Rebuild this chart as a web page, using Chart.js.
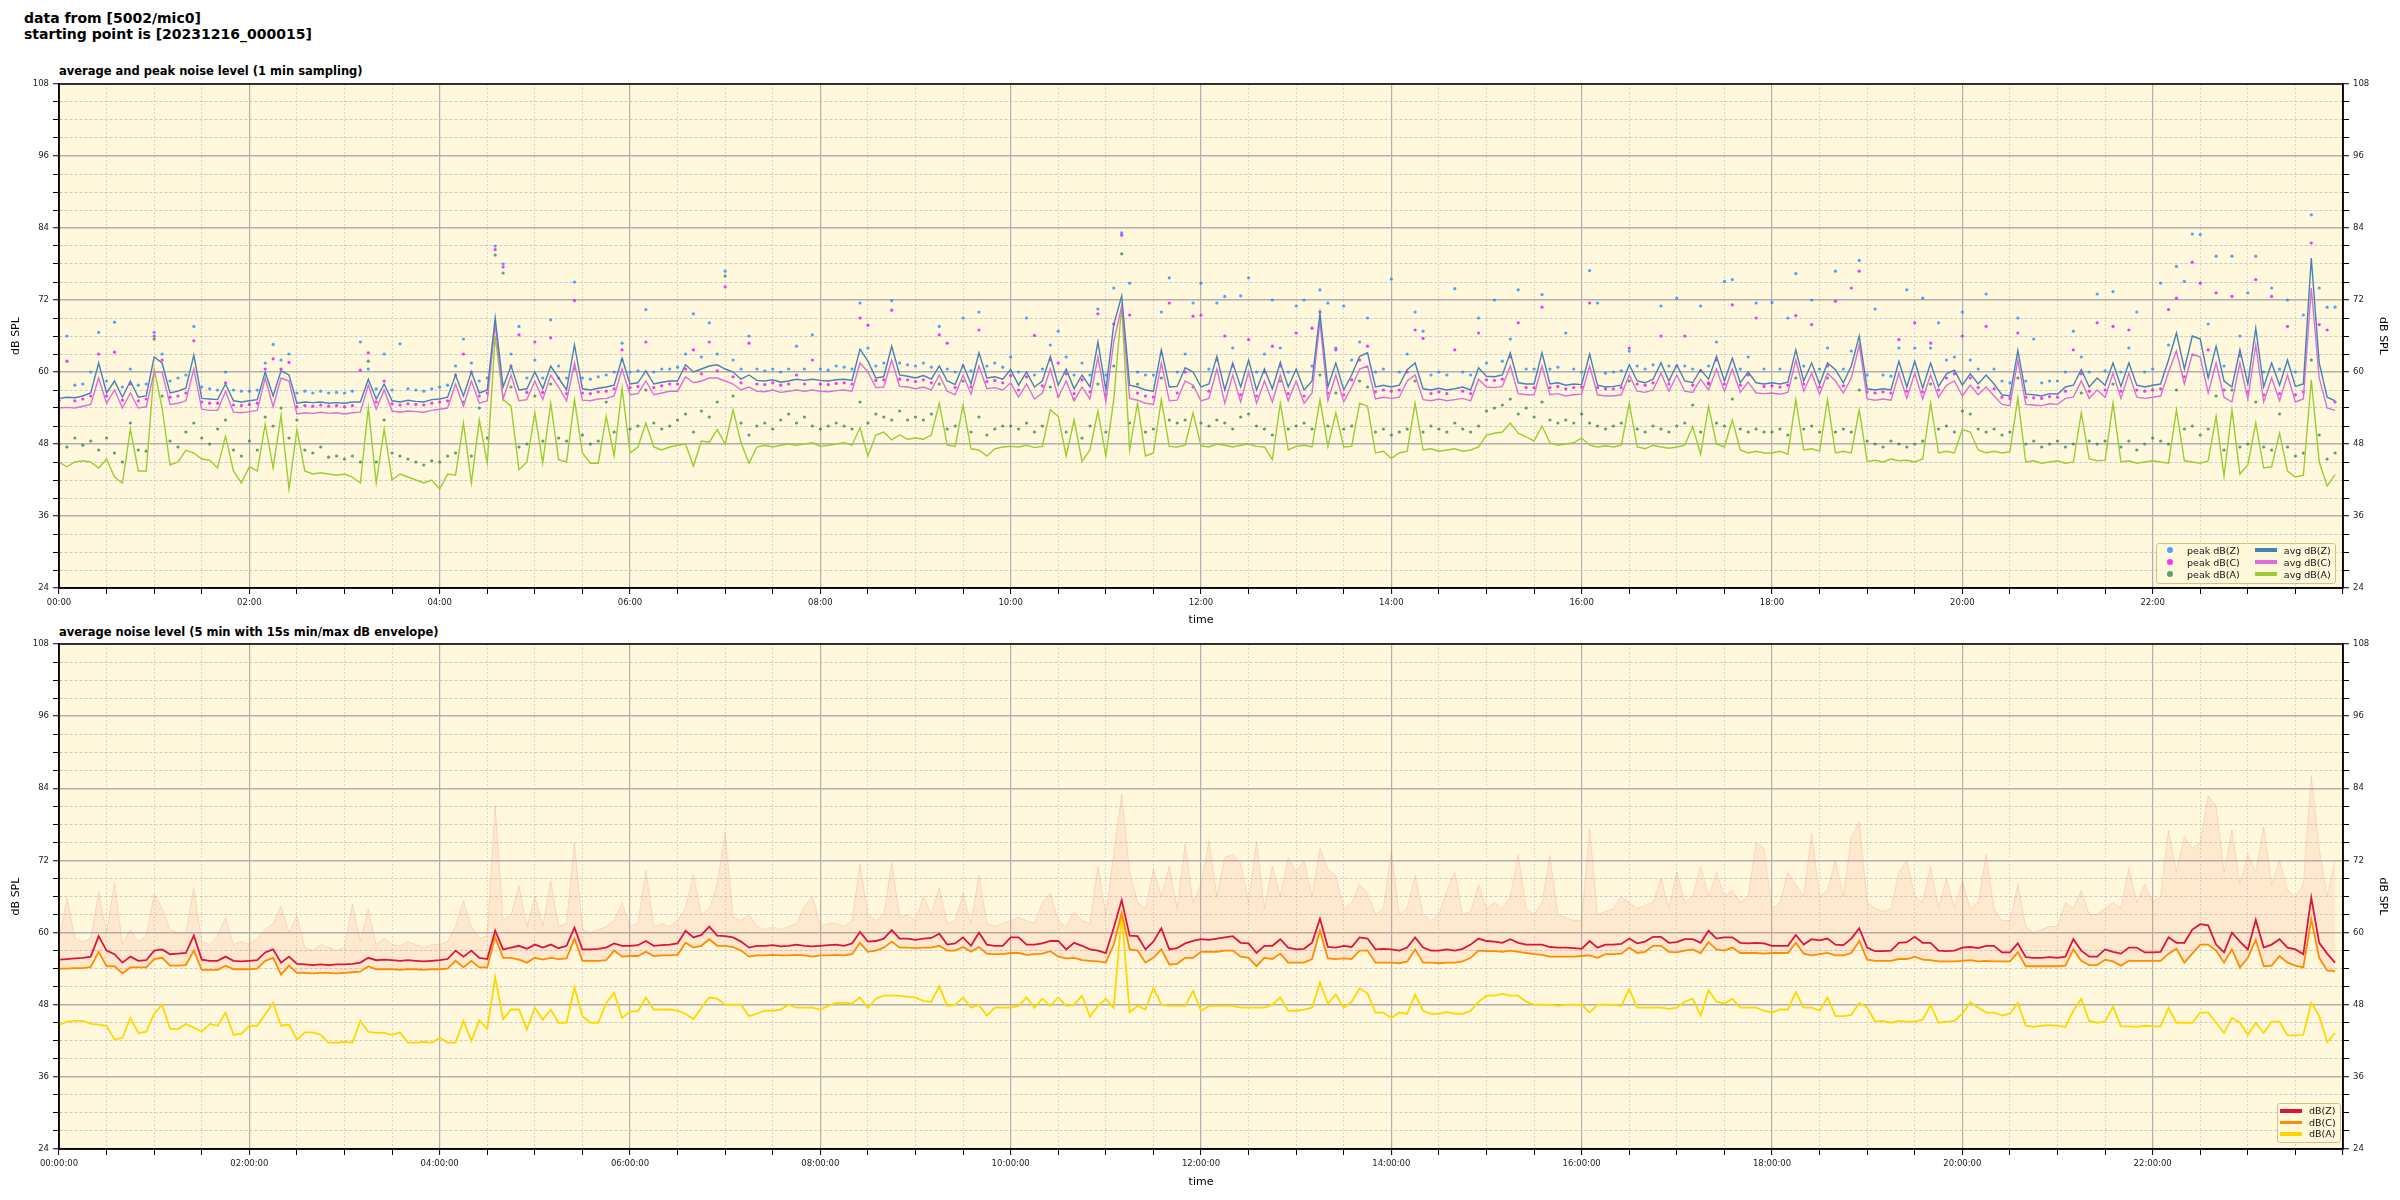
<!DOCTYPE html>
<html>
<head>
<meta charset="utf-8">
<title>noise level 5002/mic0</title>
<script src="https://cdn.jsdelivr.net/npm/chart.js@4.4.1/dist/chart.umd.min.js"></script>
<style>
  body { margin: 0; width: 2400px; height: 1200px; background: #fff; position: relative; overflow: hidden;
         font-family: "DejaVu Sans", sans-serif; }
  .title { position: absolute; left: 24px; top: 10px; font-size: 14px; font-weight: bold; line-height: 16px; color: #000; }
  .sub { position: absolute; left: 59px; font-size: 11.5px; font-weight: bold; line-height: 14px; color: #000; }
  canvas { position: absolute; left: 0; }
  .legend { position: absolute; display: grid; grid-auto-flow: column; font-size: 9.5px; color: #111;
            border: 1px solid #d9bd8c; border-radius: 3px; background: rgba(255, 247, 218, 0.92); }
  .item { display: flex; align-items: center; white-space: nowrap; }
  .dot { width: 6px; height: 6px; border-radius: 50%; margin: 0 14px 0 4px; }
  .bar { width: 22px; height: 3.5px; margin-right: 7px; }
</style>
</head>
<body>
<div class="title">data from [5002/mic0]<br>starting point is [20231216_000015]</div>
<div class="sub" style="top:64px">average and peak noise level (1 min sampling)</div>
<div class="sub" style="top:625px">average noise level (5 min with 15s min/max dB envelope)</div>
<canvas id="top" width="2400" height="570" style="top:60px"></canvas>
<canvas id="bottom" width="2400" height="580" style="top:620px"></canvas>
<div id="legTop" class="legend" style="left:2156px; top:543px; padding:0 4px 3px 6px; column-gap:15px; grid-template-rows:repeat(3, 12px)"></div>
<div id="legBottom" class="legend" style="left:2277px; top:1103px; padding:1px 4px 2px 2px; grid-template-rows:repeat(3, 11.5px)"></div>
<script>
// one sample every 5 minutes, 288 per day
const STEP = 5;
const topTimeLabels = ['00:00', '02:00', '04:00', '06:00', '08:00', '10:00', '12:00', '14:00', '16:00', '18:00', '20:00', '22:00'];
const botTimeLabels = ['00:00:00', '02:00:00', '04:00:00', '06:00:00', '08:00:00', '10:00:00', '12:00:00', '14:00:00', '16:00:00', '18:00:00', '20:00:00', '22:00:00'];
const majorDb = [24, 36, 48, 60, 72, 84, 96, 108];

// top panel: averages
const avgZ = [
  55.6,55.8,55.7,56.0,56.5,61.5,56.5,58.5,55.8,58.5,55.8,56.0,
  62.5,61.5,56.5,56.8,57.3,62.8,55.6,55.5,55.4,58.0,55.2,55.0,
  55.2,55.4,60.0,56.0,60.2,59.5,54.8,55.0,54.9,55.0,54.8,54.9,
  54.8,55.0,55.0,58.8,55.5,58.0,55.2,55.0,55.3,55.1,55.0,55.4,
  55.5,55.8,59.5,56.0,60.0,56.5,57.0,69.0,57.5,61.0,57.0,57.2,
  60.0,57.2,61.0,59.0,57.0,64.5,57.2,57.0,57.3,57.5,57.8,62.3,
  58.0,58.2,60.2,58.0,58.3,58.5,58.5,61.2,60.0,60.5,61.0,61.2,
  60.5,60.0,58.8,59.5,58.6,58.5,58.7,58.3,58.5,58.8,58.6,58.8,
  58.6,58.5,58.7,58.8,58.6,63.8,61.8,59.0,59.2,64.3,59.5,59.3,
  59.0,59.4,58.8,61.0,58.5,57.9,61.2,58.0,63.2,59.0,59.2,58.8,
  60.4,57.8,60.0,57.5,58.5,62.6,57.8,60.5,57.2,59.5,57.5,65.0,
  57.0,67.9,72.7,57.8,57.5,57.0,56.8,63.7,57.5,57.6,60.7,60.0,
  57.5,58.0,62.6,57.0,61.5,57.5,62.0,57.0,60.5,57.2,61.6,57.5,
  60.5,57.0,58.5,69.8,57.5,61.5,57.0,59.5,62.6,63.2,57.5,57.8,
  57.5,57.8,60.4,61.5,57.2,57.0,57.3,57.0,57.2,57.5,57.0,60.7,
  59.3,59.2,59.5,63.2,58.2,58.0,58.0,63.2,58.0,58.2,57.8,58.0,
  57.9,63.0,57.8,57.5,57.6,57.8,61.2,58.5,58.2,58.8,61.5,58.5,
  61.2,58.5,58.2,60.4,58.8,62.6,58.5,62.3,58.2,60.0,58.2,58.0,
  58.2,58.0,58.3,63.7,58.5,61.5,58.0,61.5,60.4,58.2,61.0,66.0,
  57.2,57.0,57.2,57.0,61.8,57.5,61.8,57.3,61.5,57.6,59.7,60.3,
  57.8,59.7,58.0,59.5,58.0,56.2,56.0,63.6,56.3,56.2,56.0,56.4,
  56.3,57.5,57.8,60.4,57.5,59.0,57.8,61.5,57.6,61.5,57.8,57.5,
  57.8,58.0,62.0,66.5,60.5,66.0,65.5,59.0,64.3,58.5,57.5,63.7,
  58.0,67.3,57.5,61.5,57.8,62.0,57.6,58.0,79.0,61.5,55.8,55.2
];
const avgC = [
  54.0,54.1,54.0,54.3,54.6,59.0,54.8,57.0,54.0,56.5,54.0,54.2,
  60.0,60.0,54.6,54.8,55.2,60.5,53.8,53.6,53.6,56.8,53.3,53.2,
  53.4,53.6,59.0,54.2,59.0,58.5,53.0,53.2,53.1,53.3,53.1,53.2,
  53.0,53.2,53.3,57.8,53.8,57.0,53.5,53.3,53.5,53.4,53.3,53.6,
  53.8,54.0,58.0,54.3,58.5,54.8,55.2,68.0,55.5,59.5,55.2,55.4,
  58.5,55.4,59.5,57.5,55.2,61.5,55.3,55.2,55.5,55.6,56.0,60.5,
  56.2,56.4,58.5,56.2,56.5,56.8,56.8,59.2,58.2,58.5,59.0,59.0,
  58.5,58.0,57.0,57.5,56.8,56.7,57.0,56.6,56.8,57.0,56.8,57.0,
  56.8,56.7,56.9,57.0,56.8,61.5,60.0,57.4,57.5,62.0,57.6,57.5,
  57.2,57.5,57.0,59.5,56.8,56.2,59.5,56.3,61.0,57.2,57.4,57.0,
  58.2,55.8,58.0,55.5,56.5,60.5,55.8,58.5,55.2,57.5,55.5,62.5,
  55.0,65.0,71.0,55.6,55.3,54.8,54.6,61.5,55.2,55.3,58.5,57.8,
  55.2,55.6,60.5,54.8,59.5,55.0,60.0,54.8,58.5,55.0,59.5,55.2,
  58.5,54.8,56.5,68.5,55.3,59.5,55.0,57.5,60.5,61.0,55.5,55.8,
  55.6,55.8,58.5,59.5,55.4,55.2,55.5,55.2,55.4,55.6,55.2,58.8,
  57.5,57.4,57.6,61.0,56.4,56.2,56.2,61.0,56.2,56.4,56.0,56.2,
  56.3,61.0,56.2,56.0,56.0,56.2,59.5,56.8,56.6,57.0,59.8,56.8,
  59.5,56.8,56.6,58.8,57.0,60.5,56.8,60.5,56.6,58.3,56.5,56.4,
  56.5,56.3,56.6,62.0,56.8,59.8,56.3,59.8,58.5,56.5,59.0,64.5,
  55.5,55.3,55.5,55.3,59.8,55.6,59.8,55.5,59.5,55.8,57.8,58.5,
  56.0,57.8,56.2,57.5,56.0,54.6,54.4,62.0,54.6,54.5,54.4,54.7,
  54.6,55.6,55.8,58.5,55.6,57.0,55.8,59.8,55.6,59.8,55.8,55.6,
  55.8,56.0,60.0,63.5,58.0,63.0,62.5,56.5,61.5,55.8,55.0,61.5,
  55.5,64.5,55.0,59.0,55.2,59.5,55.0,55.5,74.0,59.0,54.0,53.6
];
const avgA = [
  45.0,44.2,45.0,45.2,45.0,44.0,45.5,42.5,41.5,50.5,43.5,43.5,
  60.5,54.0,44.5,45.0,47.0,46.5,45.5,45.3,44.0,49.3,43.5,41.5,
  44.2,43.5,51.3,44.0,52.8,40.5,50.4,43.5,43.0,43.2,43.0,42.8,
  43.0,42.5,41.5,54.0,41.5,50.5,42.0,43.0,42.5,42.0,41.5,42.0,
  40.5,43.0,42.8,51.5,41.5,52.0,44.8,66.0,55.4,54.3,43.7,45.0,
  53.2,44.8,54.8,45.4,45.0,55.4,46.5,44.8,44.8,52.6,46.0,57.3,
  46.5,47.5,51.5,47.5,47.0,47.5,47.8,48.0,44.3,48.5,48.3,50.4,
  48.0,53.7,48.2,44.8,47.5,47.8,47.5,47.8,48.0,47.8,48.0,48.2,
  47.6,47.8,48.0,48.2,47.8,50.7,46.0,49.5,50.0,48.7,49.5,48.8,
  49.0,48.8,49.5,54.8,47.8,47.6,54.5,47.2,47.0,46.0,47.2,47.5,
  47.6,47.5,47.8,47.4,47.6,53.7,52.6,46.0,52.0,45.1,47.0,53.5,
  46.0,55.4,71.0,47.0,54.8,46.0,46.5,55.4,47.6,47.5,47.8,53.2,
  47.7,47.5,48.0,47.8,47.5,47.8,48.0,47.6,47.5,45.4,54.8,47.0,
  47.6,47.8,47.5,55.4,47.6,53.2,47.5,47.6,54.8,54.3,46.5,46.8,
  45.6,46.5,46.8,54.8,47.0,47.2,46.8,47.0,47.2,46.8,47.0,47.5,
  49.5,49.8,50.0,51.5,49.8,49.2,48.5,51.0,48.2,47.8,48.0,48.2,
  49.0,47.8,47.5,47.7,47.5,47.8,54.8,47.5,47.2,47.8,47.5,47.3,
  47.5,47.8,50.9,46.3,54.3,48.0,47.5,52.0,47.0,46.5,46.8,46.5,
  46.5,46.8,46.3,55.4,47.0,47.2,46.8,55.4,46.5,46.8,46.5,53.7,
  45.1,45.3,45.0,45.5,45.2,45.3,45.0,45.5,54.8,46.5,46.8,46.5,
  50.4,50.0,47.0,46.5,46.8,46.5,46.7,55.7,45.0,45.2,44.8,45.0,
  45.2,44.8,45.0,53.2,45.5,45.2,45.3,54.8,45.0,45.2,44.8,45.0,
  45.2,45.0,44.8,53.7,45.2,45.0,44.8,45.2,52.6,42.6,53.7,43.0,
  44.5,51.5,44.0,44.2,49.8,43.5,42.5,42.8,58.7,45.0,41.0,42.9
];

// top panel: peaks
const peakZ = [
  57.5,66.0,57.8,58.0,60.0,66.6,58.5,68.3,57.5,60.5,57.8,58.0,
  66.6,63.0,58.5,59.0,59.5,67.6,57.5,57.2,57.0,60.0,57.0,56.8,
  56.8,57.0,61.5,64.6,62.0,63.0,56.5,56.8,56.5,56.8,56.5,56.6,
  56.5,56.8,65.0,60.5,57.2,63.0,57.0,64.7,57.2,57.0,56.8,57.2,
  57.5,57.8,61.0,65.5,61.5,58.5,59.0,81.0,78.0,63.0,67.6,59.0,
  62.0,59.0,68.7,61.0,59.0,75.0,59.0,58.8,59.2,59.5,60.0,64.8,
  60.0,60.2,70.4,60.0,60.5,60.5,60.8,63.0,69.7,62.5,68.2,63.0,
  76.8,62.0,60.5,66.0,60.5,60.2,60.5,60.0,60.5,64.3,60.5,66.2,
  60.5,60.3,61.0,60.8,60.5,71.5,64.0,61.0,61.5,71.9,61.5,61.2,
  61.0,61.5,60.8,67.6,60.5,60.0,69.0,60.2,70.0,61.0,61.5,60.8,
  62.5,60.0,69.0,59.5,60.5,64.5,66.8,62.5,59.5,61.5,59.5,70.5,
  59.5,74.0,83.2,74.8,60.0,59.5,59.5,70.0,75.7,60.0,63.0,71.5,
  74.8,60.5,71.5,72.6,64.0,72.7,75.7,60.0,63.0,72.0,64.0,60.0,
  71.0,72.0,61.0,73.7,71.5,64.0,71.0,62.0,65.0,69.0,60.0,60.5,
  75.5,60.0,63.0,70.0,66.8,59.5,60.0,59.5,73.9,60.0,59.5,69.0,
  61.5,72.0,61.8,65.5,73.7,60.5,60.5,72.9,60.5,60.8,66.5,60.5,
  60.0,76.9,71.5,59.8,60.0,60.2,63.5,61.0,60.5,61.2,71.0,61.0,
  72.3,61.0,60.5,71.0,61.0,65.0,75.1,75.4,60.5,62.5,71.5,60.5,
  71.6,60.5,69.0,76.4,61.0,72.0,60.5,64.0,76.8,60.5,63.5,78.6,
  59.5,70.5,59.5,59.3,64.0,73.7,64.0,72.3,64.0,68.2,62.0,62.5,
  70.0,62.0,60.5,73.0,60.5,58.5,58.2,69.0,58.5,65.5,58.2,58.5,
  58.5,60.0,66.8,62.5,60.0,73.0,60.2,73.4,60.0,64.0,70.0,60.0,
  60.5,74.8,64.5,77.6,75.1,83.0,82.9,68.0,79.3,61.0,79.3,66.0,
  73.2,79.3,60.0,74.0,60.5,72.0,60.0,69.5,86.2,74.0,70.8,70.8
];
const peakC = [
  55.3,61.8,55.2,55.5,56.0,63.0,56.0,63.3,55.3,58.0,55.2,55.5,
  66.0,62.0,55.8,56.0,56.5,65.2,55.0,54.8,54.8,58.2,54.5,54.4,
  54.6,54.8,60.5,62.2,60.5,61.6,54.2,54.4,54.3,54.5,54.3,54.4,
  54.2,54.4,60.3,63.2,55.0,58.5,54.7,54.5,54.7,54.6,54.5,54.8,
  55.0,55.2,59.5,63.0,60.0,56.0,56.5,80.4,77.5,61.0,66.2,56.6,
  65.0,56.6,65.7,59.0,56.4,71.9,56.5,56.4,56.7,56.8,57.2,63.7,
  57.4,57.6,65.0,57.4,57.7,58.0,58.0,60.5,63.7,59.7,65.0,60.2,
  74.2,59.2,58.2,64.8,58.0,57.9,58.2,57.8,58.0,59.5,58.0,62.0,
  58.0,57.9,58.1,58.2,58.0,69.0,67.8,58.6,58.7,70.3,58.8,58.7,
  58.4,58.7,58.2,66.2,64.8,57.4,61.0,57.5,67.0,58.4,58.6,58.2,
  59.4,57.0,59.2,66.1,57.7,62.0,61.5,59.7,56.4,58.7,56.7,69.7,
  56.2,68.0,82.8,69.5,56.5,56.0,55.8,63.0,71.5,56.5,60.0,69.3,
  69.5,56.8,62.0,66.0,61.0,56.2,65.4,56.0,60.0,64.3,61.0,56.4,
  66.5,56.0,67.3,70.0,56.5,63.7,56.2,58.7,62.0,64.3,56.7,57.0,
  56.8,57.0,60.0,67.0,65.6,56.4,56.7,56.4,63.7,56.8,56.4,66.5,
  58.7,58.6,58.8,62.5,68.2,57.4,57.4,70.8,57.4,57.6,57.2,57.4,
  57.5,71.5,57.4,57.2,57.2,57.4,64.0,58.0,57.8,58.2,66.0,58.0,
  61.0,66.0,57.8,60.2,58.2,62.0,58.0,71.2,57.8,59.5,69.0,57.6,
  57.7,57.5,57.8,69.4,58.0,67.9,57.5,61.0,71.8,57.7,74.0,76.8,
  56.7,56.5,56.7,56.5,65.4,56.8,68.2,56.7,64.8,57.0,59.0,59.7,
  66.0,59.0,57.4,67.6,57.2,55.8,55.6,66.5,55.8,55.7,55.6,55.9,
  55.8,56.8,63.7,59.7,56.8,68.2,57.0,67.6,56.8,67.0,57.0,56.8,
  57.0,57.2,70.4,72.3,59.2,78.3,74.8,63.7,73.2,57.0,72.6,62.7,
  56.7,75.4,56.2,72.6,56.4,67.6,56.2,56.7,81.5,67.9,67.0,55.0
];
const peakA = [
  48.0,47.5,49.0,47.8,48.5,47.0,49.0,46.5,45.0,51.5,47.0,46.8,
  65.5,56.0,48.5,47.5,50.0,51.5,49.0,48.0,50.5,52.0,47.0,46.0,
  48.5,47.0,52.5,51.0,54.0,49.0,52.0,47.0,46.5,47.5,45.8,46.0,
  45.5,46.0,45.0,61.8,45.0,52.0,46.5,46.0,45.5,45.0,44.5,45.2,
  45.0,46.0,46.5,55.0,46.0,54.0,49.0,79.5,76.5,57.5,47.5,48.0,
  56.0,48.5,58.0,49.0,48.5,60.5,49.5,48.0,48.5,55.0,50.0,62.0,
  50.5,51.0,57.0,51.5,50.5,51.0,52.0,53.0,50.0,53.5,52.5,55.0,
  76.0,56.0,51.5,49.5,51.0,51.5,50.5,52.0,53.0,51.5,52.5,51.0,
  50.5,51.0,51.5,51.0,50.5,55.0,51.5,53.0,52.5,52.0,53.5,52.0,
  52.5,52.0,53.0,58.0,50.5,51.0,58.5,50.0,52.5,49.5,50.5,51.0,
  51.0,50.5,51.5,50.0,51.0,57.5,56.0,50.0,55.5,49.0,51.0,58.0,
  50.0,61.0,79.7,51.5,58.0,50.0,50.5,59.0,52.0,51.5,52.0,57.5,
  51.5,51.0,52.0,51.5,50.5,52.5,53.0,51.0,50.5,49.5,58.5,50.5,
  51.0,51.5,50.5,59.5,51.0,56.5,50.5,51.0,58.5,57.5,50.0,50.5,
  49.5,50.0,50.5,58.5,50.0,51.0,50.5,50.0,51.5,50.5,50.0,51.0,
  53.5,54.0,54.5,55.5,53.0,54.0,52.5,55.0,52.0,51.5,52.0,51.5,
  53.0,51.5,51.0,50.5,51.0,51.5,58.5,50.5,50.0,51.0,50.5,50.0,
  51.0,51.5,54.5,50.0,58.0,51.5,51.0,55.5,50.5,50.0,50.5,50.0,
  50.0,50.5,49.5,59.0,50.5,51.0,50.0,59.0,50.0,50.5,50.0,57.0,
  48.5,48.0,47.5,48.5,48.0,47.5,48.0,48.5,58.0,50.5,51.0,50.0,
  53.5,53.0,50.5,50.0,50.5,49.5,50.0,59.0,48.0,48.5,47.5,48.0,
  48.5,47.5,48.0,56.5,48.5,48.0,48.5,58.0,47.5,48.5,47.0,48.0,
  49.0,48.5,48.0,57.0,50.5,51.0,49.5,50.5,56.0,47.0,57.0,47.5,
  48.0,55.0,47.5,47.0,53.0,47.5,46.0,46.5,62.0,49.5,45.5,46.5
];

// bottom panel: 5 min averages and the 15 s max envelope
const levZ = [
  55.5,55.6,55.7,55.8,56.0,59.4,57.0,56.4,55.0,56.0,55.3,55.4,
  57.0,57.2,56.4,56.5,56.6,59.5,55.5,55.3,55.3,56.0,55.3,55.2,
  55.3,55.4,56.7,57.2,55.0,56.0,54.8,54.7,54.6,54.7,54.6,54.7,
  54.7,54.8,55.0,55.8,55.4,55.5,55.4,55.3,55.4,55.3,55.2,55.3,
  55.4,55.6,57.0,56.0,57.0,55.8,55.6,60.3,57.2,57.5,57.8,57.3,
  58.0,57.5,58.0,57.4,57.8,60.8,57.2,57.2,57.3,57.5,58.2,57.8,
  57.8,57.9,58.6,57.8,57.9,58.0,58.2,60.3,59.2,59.6,61.0,59.5,
  59.4,59.2,58.5,57.5,57.8,57.8,57.9,57.7,57.8,58.0,57.8,57.7,
  57.8,57.9,58.0,57.8,58.2,60.1,58.5,58.6,59.0,60.4,59.0,59.0,
  58.8,59.0,59.1,59.8,58.0,58.2,59.2,57.8,60.0,58.0,57.8,57.8,
  59.2,59.2,58.0,58.0,58.2,58.6,58.6,57.2,58.3,57.8,57.2,57.0,
  56.6,60.8,65.4,59.5,59.4,57.2,58.5,60.7,57.2,57.4,58.2,58.6,
  58.9,58.8,59.0,59.2,59.4,58.3,58.2,56.6,57.8,57.8,58.9,57.5,
  57.2,57.3,58.3,62.3,57.6,57.5,57.8,57.6,59.2,59.0,57.2,57.3,
  57.2,57.0,57.5,59.2,57.5,57.0,57.0,57.2,57.0,57.3,58.0,59.0,
  58.6,58.5,58.3,58.9,58.3,58.0,58.0,58.0,57.6,57.5,57.5,57.4,
  57.3,58.6,57.5,58.0,58.0,58.1,59.0,58.2,58.5,59.3,59.3,58.3,
  58.4,58.9,58.9,58.3,60.3,59.0,59.2,59.2,58.3,58.2,58.3,58.2,
  57.8,57.8,57.8,59.6,58.0,58.9,58.7,59.0,58.0,57.9,59.0,60.7,
  57.5,56.9,56.9,57.0,58.3,58.4,59.3,58.3,58.3,57.0,56.9,57.0,
  57.5,57.6,57.4,57.8,57.8,56.7,56.7,58.2,55.9,55.8,55.8,55.9,
  55.8,56.0,58.9,57.0,56.0,56.0,57.2,56.8,56.5,57.5,57.5,56.7,
  56.7,56.8,59.2,58.3,58.3,60.5,61.4,61.2,58.0,56.7,60.0,58.5,
  57.2,62.1,57.5,58.0,58.9,57.5,57.2,56.4,65.8,58.3,56.5,55.0
];
const levC = [
  54.0,54.0,54.1,54.1,54.3,56.8,54.4,54.4,53.2,54.2,54.2,54.2,
  55.6,55.8,54.5,54.5,54.6,57.0,53.8,53.8,53.8,54.5,53.9,53.9,
  53.9,54.0,55.3,55.8,53.0,54.5,53.3,53.3,53.2,53.3,53.3,53.2,
  53.3,53.4,53.5,54.4,53.9,53.9,53.9,53.8,53.9,53.9,53.8,53.9,
  53.9,54.0,55.3,54.2,55.3,54.2,54.2,59.2,55.8,55.8,55.5,55.0,
  55.8,55.5,55.8,55.6,55.7,59.0,55.3,55.3,55.3,55.4,57.0,56.0,
  56.1,56.1,56.8,56.1,56.2,56.2,56.3,58.3,57.5,57.8,58.9,57.8,
  57.8,57.6,57.0,56.0,56.2,56.2,56.3,56.2,56.2,56.3,56.2,56.0,
  56.2,56.2,56.3,56.2,56.4,58.3,56.8,57.0,57.5,58.5,57.5,57.5,
  57.4,57.5,57.5,57.8,57.0,57.0,57.6,56.8,57.6,56.5,56.4,56.4,
  56.6,56.6,56.3,56.4,56.5,56.9,56.0,55.7,55.8,55.4,55.3,55.2,
  55.0,58.0,63.3,57.2,57.0,55.0,55.8,57.2,54.7,54.8,55.8,55.8,
  56.8,56.8,56.8,57.0,57.0,56.0,55.8,54.4,55.8,55.6,56.5,55.0,
  55.0,55.0,55.6,60.3,55.7,55.6,55.7,55.6,57.0,57.0,55.0,55.0,
  55.0,54.9,55.2,57.2,55.0,55.0,54.9,55.0,55.0,55.2,55.8,57.0,
  56.9,56.9,56.8,57.0,56.8,56.6,56.4,56.3,56.0,56.0,56.0,56.0,
  56.1,56.2,55.8,56.4,56.4,56.5,57.5,56.6,56.8,57.8,57.8,56.8,
  56.7,57.0,57.2,56.6,58.4,57.2,57.0,57.5,56.6,56.6,56.6,56.5,
  56.6,56.6,56.6,58.3,56.5,56.2,56.4,56.6,56.2,56.2,56.6,58.6,
  55.5,55.3,55.3,55.3,55.6,55.6,56.0,55.5,55.4,55.2,55.2,55.2,
  55.3,55.4,55.2,55.3,55.2,55.2,55.2,56.7,54.4,54.4,54.4,54.4,
  54.4,54.5,57.2,55.3,54.6,54.6,55.5,55.2,54.5,55.3,55.3,55.3,
  55.3,55.3,56.5,57.3,55.0,56.5,58.0,58.0,57.0,55.0,57.2,54.2,
  55.8,58.8,54.4,54.5,56.1,55.0,54.5,54.2,62.2,55.8,53.7,53.6
];
const levA = [
  44.6,45.2,45.3,45.3,44.8,44.7,44.5,42.2,42.5,45.8,43.3,43.5,
  46.5,48.0,44.0,43.9,44.8,44.2,43.5,44.8,44.5,46.7,43.0,43.2,
  44.5,44.5,46.4,48.3,44.5,44.7,42.2,43.4,43.4,43.0,41.7,41.7,
  41.8,41.7,45.3,43.5,43.3,43.3,43.0,43.4,41.7,41.7,41.8,41.7,
  42.5,41.7,41.7,45.3,42.0,45.4,44.0,52.6,45.6,47.2,47.2,43.9,
  47.5,45.5,47.2,45.0,45.0,50.9,46.1,45.0,45.0,48.3,50.0,45.8,
  46.9,46.9,49.2,47.2,47.2,47.2,47.0,46.5,45.6,47.5,49.2,49.0,
  48.0,48.0,48.0,46.1,46.5,47.0,47.0,47.2,48.0,47.5,47.5,47.5,
  47.2,47.8,48.3,48.3,48.2,49.2,47.5,49.0,49.5,49.5,49.5,49.3,
  49.2,48.6,48.5,51.1,47.8,48.0,49.2,47.5,48.0,46.2,47.5,47.5,
  47.5,47.8,49.2,47.5,49.0,47.8,49.2,47.8,48.0,49.5,46.0,47.8,
  49.0,47.5,63.0,46.7,47.8,47.2,50.8,48.0,47.8,47.8,47.8,50.3,
  47.0,47.8,47.8,47.8,47.8,47.5,47.5,47.5,47.5,48.0,49.2,47.0,
  47.0,47.2,47.5,51.7,48.2,49.7,47.5,48.5,50.7,49.9,46.7,46.7,
  45.8,46.7,46.5,49.7,47.0,46.5,46.5,46.8,46.5,46.5,47.0,48.5,
  49.5,49.5,49.8,49.5,49.5,48.5,48.0,48.0,48.0,47.8,48.0,48.0,
  48.0,46.7,48.0,48.0,48.0,47.8,50.6,47.5,47.5,47.5,47.5,47.3,
  47.5,48.5,49.0,46.2,50.4,48.5,48.2,49.0,47.5,47.5,47.5,47.0,
  46.7,47.2,47.2,50.1,47.5,47.5,47.0,49.2,46.1,46.1,46.3,48.3,
  47.5,45.2,45.3,45.0,45.3,45.2,45.2,45.5,48.0,45.0,45.2,45.3,
  46.5,48.4,47.5,46.7,46.7,46.2,46.5,48.3,44.5,44.3,44.5,44.6,
  44.5,44.3,47.0,49.0,45.3,45.0,45.2,47.7,44.4,44.4,44.3,44.5,
  44.4,44.4,47.5,45.0,45.0,45.0,46.7,46.7,45.0,43.3,45.8,45.0,
  43.0,45.0,43.3,45.2,45.2,42.9,42.9,43.0,48.3,46.1,41.8,43.3
];
const envMax = [
  58.5,65.8,59.0,58.5,59.0,66.7,60.0,68.3,58.0,60.5,58.5,59.5,
  66.4,64.0,60.5,60.0,60.0,67.5,58.5,58.0,59.5,62.5,58.0,58.5,
  58.0,59.0,60.5,61.5,64.4,60.0,62.8,57.5,57.0,58.0,57.5,57.0,
  57.5,64.7,58.5,63.9,58.0,59.0,58.0,57.8,58.5,58.0,57.5,58.0,
  58.0,58.5,61.0,65.3,61.0,59.0,59.5,81.1,62.0,63.0,67.8,61.0,
  66.0,61.0,68.6,61.0,61.5,75.0,60.5,60.0,60.5,61.0,62.0,65.0,
  61.0,61.5,70.3,61.0,61.5,61.0,62.0,64.0,69.7,63.0,64.0,68.0,
  76.7,62.5,62.0,63.0,61.0,60.5,61.0,60.5,61.0,61.5,64.4,66.0,
  61.0,61.5,61.5,61.0,62.0,71.4,63.0,62.0,63.0,71.7,62.5,63.0,
  62.0,66.0,63.0,67.5,61.5,62.0,66.5,61.5,69.6,61.5,61.0,61.5,
  62.0,62.5,62.0,61.5,65.0,66.5,62.0,61.0,63.5,62.0,61.5,71.0,
  63.0,73.0,83.0,70.0,65.0,64.0,70.5,66.0,71.0,64.0,74.7,65.0,
  68.0,75.3,66.0,72.5,73.0,71.5,65.0,75.2,64.0,71.0,66.0,72.5,
  70.0,72.0,66.0,74.0,70.5,69.5,64.0,65.0,68.0,66.5,63.0,64.0,
  73.3,63.0,64.0,69.5,63.0,62.0,63.0,67.0,70.0,63.0,63.5,68.0,
  64.0,65.0,64.0,66.0,73.0,64.0,63.0,65.0,72.7,63.0,62.5,62.0,
  62.0,77.2,63.0,63.5,64.0,66.0,65.0,64.0,64.5,65.0,69.0,64.0,
  70.0,65.0,66.0,71.0,66.0,70.0,66.0,67.0,65.0,66.0,75.0,74.0,
  64.0,65.0,70.0,68.0,66.0,76.5,66.0,67.0,72.0,66.0,76.0,78.4,
  65.0,64.0,63.5,64.0,70.0,72.0,66.0,65.0,71.0,64.0,69.0,64.0,
  68.5,64.0,65.0,73.0,64.0,62.0,62.0,68.0,61.0,60.0,60.5,61.0,
  61.0,65.0,64.0,67.0,63.0,63.0,64.0,65.0,64.0,70.7,65.0,68.0,
  65.0,66.0,77.0,70.0,76.0,74.0,75.0,82.7,81.0,70.0,77.0,68.0,
  73.0,70.0,77.5,68.0,72.0,67.0,66.0,68.0,86.1,74.0,66.0,72.0
];

const FONT = "'DejaVu Sans', sans-serif";
Chart.defaults.font.family = FONT;
Chart.defaults.color = '#111';

const pts = arr => arr.map((v, i) => ({ x: i * STEP, y: v }));

// cream plot background and black frame round the plot area
const plotFrame = {
  id: 'plotFrame',
  beforeDraw(chart) {
    const a = chart.chartArea, ctx = chart.ctx;
    ctx.save();
    ctx.fillStyle = '#fff8dc';
    ctx.fillRect(a.left, a.top, a.right - a.left, a.bottom - a.top);
    ctx.restore();
  },
  afterDraw(chart) {
    const a = chart.chartArea, ctx = chart.ctx;
    ctx.save();
    ctx.strokeStyle = '#000';
    ctx.lineWidth = 1.5;
    ctx.strokeRect(a.left, a.top, a.right - a.left, a.bottom - a.top);
    ctx.restore();
  }
};

function lineSet(label, arr, color, width, order) {
  return { label, data: pts(arr), borderColor: color, backgroundColor: color, borderWidth: width,
           pointRadius: 0, tension: 0, fill: false, order };
}
function dotSet(label, arr, color) {
  return { label, data: pts(arr), showLine: false, pointRadius: 1.6, pointBorderWidth: 0,
           pointBackgroundColor: color, borderColor: color, backgroundColor: color, order: 10 };
}

function scales(timeLabels, xHeight, timePad) {
  const tickFont = { family: FONT, size: 8.5 };
  const yAxis = (pos, width, titleTop) => ({
    type: 'linear', position: pos, min: 24, max: 108,
    afterFit: s => { s.width = width; },
    ticks: { stepSize: 3, maxTicksLimit: 60, autoSkip: false, font: tickFont, color: '#222', padding: 4,
             callback: v => majorDb.includes(v) ? String(v) : '' },
    grid: {
      drawOnChartArea: pos === 'left',
      color: c => c.tick && c.tick.value % 12 === 0 ? '#b0b0b0' : '#bdbdbd',
      lineWidth: c => c.tick && c.tick.value % 12 === 0 ? 1.5 : 0.8,
      tickLength: 6, tickColor: '#000', tickWidth: 1, tickBorderDash: []
    },
    border: { color: '#000', width: 1.5, dash: c => c.tick && c.tick.value % 12 !== 0 ? [3, 2] : [] },
    title: { display: true, text: 'dB SPL', font: { family: FONT, size: 11 }, color: '#000',
             padding: { top: titleTop, bottom: 0 } }
  });
  return {
    x: {
      type: 'linear', min: 0, max: 1440,
      afterFit: s => { s.height = xHeight; },
      ticks: { stepSize: 30, maxTicksLimit: 60, autoSkip: false, maxRotation: 0, font: tickFont, color: '#222', padding: 4,
               callback: v => v % 120 === 0 && v < 1440 ? timeLabels[v / 120] : '' },
      grid: {
        color: c => c.tick && c.tick.value % 120 === 0 ? '#b0b0b0' : '#cccccc',
        lineWidth: c => c.tick && c.tick.value % 120 === 0 ? 1.2 : 0.8,
        tickLength: 6, tickColor: '#000', tickWidth: 1, tickBorderDash: []
      },
      border: { color: '#000', width: 1.5, dash: c => c.tick && c.tick.value % 120 !== 0 ? [2, 2] : [] },
      title: { display: true, text: 'time', font: { family: FONT, size: 11 }, color: '#000',
               padding: { top: 0, bottom: timePad } }
    },
    y: yAxis('left', 59, 10),
    y2: yAxis('right', 57, 11)
  };
}

function makeChart(id, datasets, timeLabels, xHeight, timePad) {
  return new Chart(document.getElementById(id), {
    type: 'line',
    data: { datasets },
    options: {
      responsive: false, animation: false, devicePixelRatio: 1,
      layout: { padding: { top: 24, left: 0, right: 0, bottom: 0 } },
      plugins: { legend: { display: false }, tooltip: { enabled: false } },
      scales: scales(timeLabels, xHeight, timePad)
    },
    plugins: [plotFrame]
  });
}

const topSets = [
  dotSet('peak dB(Z)', peakZ, 'rgba(30,144,255,0.8)'),
  dotSet('peak dB(C)', peakC, 'rgba(255,0,255,0.8)'),
  dotSet('peak dB(A)', peakA, 'rgba(46,139,87,0.8)'),
  lineSet('avg dB(Z)', avgZ, '#4682b4', 1.4, 1),
  lineSet('avg dB(C)', avgC, '#da70d6', 1.4, 2),
  lineSet('avg dB(A)', avgA, '#9acd32', 1.4, 3)
];
makeChart('top', topSets, topTimeLabels, 42, 3);

// pale band from the C line up to the 15 s maxima
const envelope = {
  label: 'envelope', data: pts(envMax), borderColor: 'rgba(240,128,110,0.3)', borderWidth: 0.8,
  backgroundColor: 'rgba(250,128,114,0.13)', pointRadius: 0, tension: 0, fill: 1, order: 10
};
const bottomSets = [
  lineSet('dB(Z)', levZ, '#dc143c', 1.8, 1),
  lineSet('dB(C)', levC, '#ff8c00', 1.8, 2),
  lineSet('dB(A)', levA, '#ffd700', 1.8, 3),
  envelope
];
makeChart('bottom', bottomSets, botTimeLabels, 51, 11);

function legend(el, sets) {
  sets.forEach(ds => {
    const item = document.createElement('div');
    item.className = 'item';
    const mark = document.createElement('span');
    if (ds.showLine === false) {
      mark.className = 'dot';
      mark.style.background = ds.pointBackgroundColor;
    } else {
      mark.className = 'bar';
      mark.style.background = ds.borderColor;
    }
    item.append(mark, document.createTextNode(ds.label));
    el.append(item);
  });
}
legend(document.getElementById('legTop'), topSets);
legend(document.getElementById('legBottom'), bottomSets.slice(0, 3));
</script>
</body>
</html>
